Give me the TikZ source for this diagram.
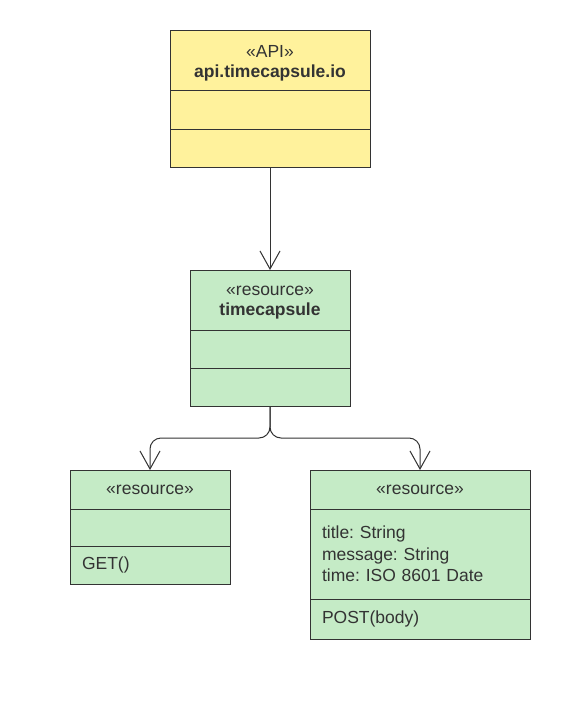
\documentclass[tikz,border=0pt]{standalone}
\usepackage{fontspec}
\setmainfont{Liberation Sans}
\frenchspacing
\usetikzlibrary{arrows.meta}
\definecolor{ink}{HTML}{333333}
\definecolor{apiyellow}{HTML}{FFF29C}
\definecolor{resgreen}{HTML}{C5EBC6}
\tikzset{
  comp/.style={draw=ink, line width=1pt, inner sep=0pt, outer sep=0pt, text=ink,
    font=\fontsize{17.5}{20}\selectfont, align=center},
  ycomp/.style={comp, fill=apiyellow},
  gcomp/.style={comp, fill=resgreen},
  titletext/.style={text=ink, inner sep=0pt, font=\fontsize{17.5}{20}\selectfont, align=center, yshift=-3pt},
  arr/.style={draw=ink, line width=1pt, -{Straight Barb[length=18pt,width=20pt]}},
}
\begin{document}
\begin{tikzpicture}[x=1pt,y=-1pt]
\useasboundingbox (0,0) rectangle (580,702);
\fill[white] (0,0) rectangle (580,702);
% API class
\node[ycomp, minimum width=200pt, minimum height=60pt,
  label={[titletext]center:«API»\\\textbf{api.timecapsule.io}}] (api1) at (270,60) {};
\node[ycomp, minimum width=200pt, minimum height=39pt] (api2) at (270,109.5) {};
\node[ycomp, minimum width=200pt, minimum height=38pt] (api3) at (270,148) {};
% timecapsule resource
\node[gcomp, minimum width=160pt, minimum height=60pt,
  label={[titletext]center:«resource»\\\textbf{timecapsule}}] (tc1) at (270,300) {};
\node[gcomp, minimum width=160pt, minimum height=38pt] (tc2) at (270,349) {};
\node[gcomp, minimum width=160pt, minimum height=38pt] (tc3) at (270,387) {};
% GET resource
\node[gcomp, minimum width=160pt, minimum height=39pt] (get1) at (150,489.5) {«resource»};
\node[gcomp, minimum width=160pt, minimum height=37pt] (get2) at (150,527.5) {};
\node[gcomp, minimum width=160pt, minimum height=38pt, text width=136pt, align=left] (get3) at (150,565) {GET()};
% POST resource
\node[gcomp, minimum width=220pt, minimum height=39pt] (post1) at (420,489.5) {«resource»};
\node[gcomp, minimum width=220pt, minimum height=90pt, text width=196pt, align=left,
  font=\fontsize{17.5}{21.3}\selectfont] (post2) at (420,554) {title: String\\message: String\\time: ISO 8601 Date};
\node[gcomp, minimum width=220pt, minimum height=40pt, text width=196pt, align=left] (post3) at (420,619) {POST(body)};
% connectors
\draw[arr] (api3.south) -- (tc1.north);
\draw[arr, rounded corners=11pt] (tc3.south) -- ++(0,32) -| (get1.north);
\draw[arr, rounded corners=11pt] (tc3.south) -- ++(0,32) -| (post1.north);
\end{tikzpicture}
\end{document}
